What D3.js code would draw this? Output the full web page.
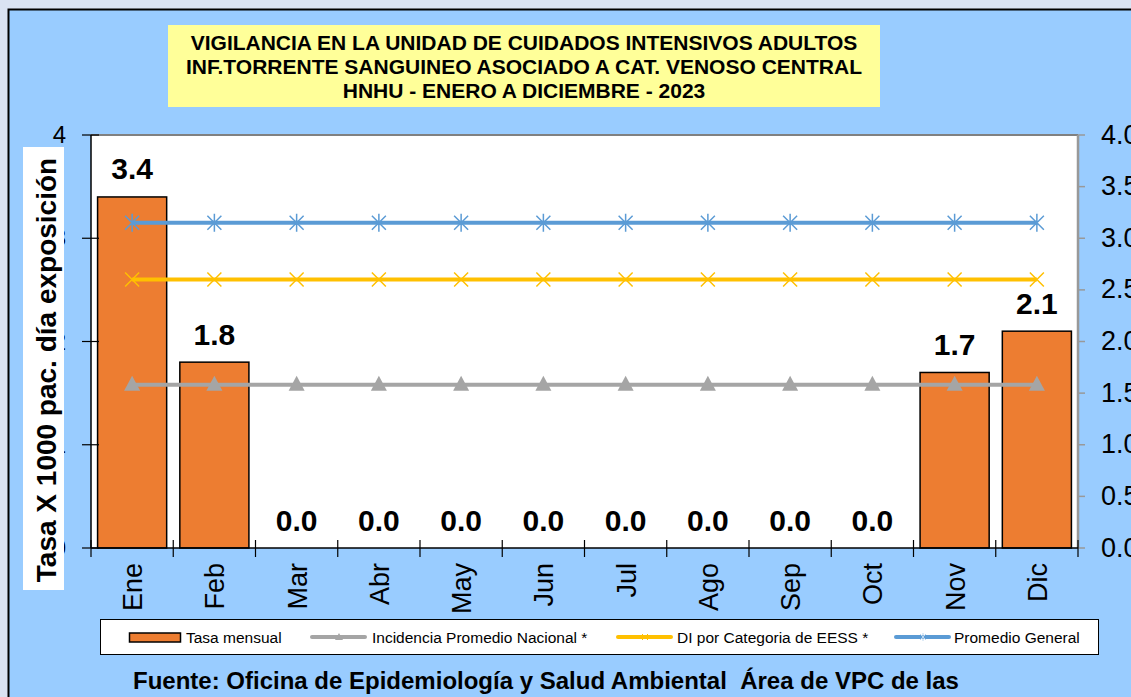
<!DOCTYPE html>
<html>
<head>
<meta charset="utf-8">
<script src="https://cdn.jsdelivr.net/npm/d3@7"></script>
<style>
  html, body { margin: 0; padding: 0; background: #dae3f3; }
  svg { display: block; font-family: "Liberation Sans", Arial, sans-serif; }
</style>
</head>
<body>
<svg id="chart" width="1131" height="697"></svg>
<script>
// Monthly CLABSI rate, ICU adults, 2023
const months = ["Ene","Feb","Mar","Abr","May","Jun","Jul","Ago","Sep","Oct","Nov","Dic"];
const tasaMensual = [3.4, 1.8, 0, 0, 0, 0, 0, 0, 0, 0, 1.7, 2.1];
const incidenciaNacional = [1.58, 1.58, 1.58, 1.58, 1.58, 1.58, 1.58, 1.58, 1.58, 1.58, 1.58, 1.58];
const diCategoria = [2.6, 2.6, 2.6, 2.6, 2.6, 2.6, 2.6, 2.6, 2.6, 2.6, 2.6, 2.6];
const promedioGeneral = [3.15, 3.15, 3.15, 3.15, 3.15, 3.15, 3.15, 3.15, 3.15, 3.15, 3.15, 3.15];
const leftTicks = [0, 1, 2, 3, 4];
const rightTicks = [0, 0.5, 1, 1.5, 2, 2.5, 3, 3.5, 4];
const titleLines = [
  "VIGILANCIA EN LA UNIDAD DE CUIDADOS INTENSIVOS ADULTOS",
  "INF.TORRENTE SANGUINEO ASOCIADO A CAT. VENOSO CENTRAL",
  "HNHU - ENERO A DICIEMBRE - 2023"
];
const yTitle = "Tasa X 1000 pac. día exposición";
const fuente = "Fuente: Oficina de Epidemiología y Salud Ambiental  Área de VPC de las";

const C = { bar: "#ED7D31", gray: "#A5A5A5", yellow: "#FFC000", blue: "#5B9BD5", bg: "#99CCFF" };

const svg = d3.select("#chart");

// Chart panel background with black frame
svg.append("rect").attr("x", 8.5).attr("y", 9.5).attr("width", 1140).attr("height", 700)
  .attr("fill", C.bg).attr("stroke", "#000").attr("stroke-width", 2);

const L = 91, R = 1078, T = 135, B = 548;

const x = d3.scaleBand().domain(months).range([L, R]).paddingInner(0.16).paddingOuter(0.08);
const xStep = d3.scaleBand().domain(months).range([L, R]);
const y = d3.scaleLinear().domain([0, 4]).range([B, T]);
const cx = d => x(d) + x.bandwidth() / 2;

// plot area
svg.append("rect").attr("x", L).attr("y", T).attr("width", R - L).attr("height", B - T).attr("fill", "#fff");
svg.append("line").attr("x1", L).attr("x2", R).attr("y1", T).attr("y2", T).attr("stroke", "#808080").attr("stroke-width", 2);

// title box
const tg = svg.append("g");
tg.append("rect").attr("x", 168).attr("y", 25).attr("width", 712).attr("height", 82).attr("fill", "#FFFF99");
tg.selectAll("text").data(titleLines).join("text")
  .attr("x", 524).attr("y", (d, i) => 49.5 + i * 24)
  .attr("text-anchor", "middle").attr("font-weight", "bold").attr("font-size", 21)
  .text(d => d);

// bars
svg.append("g").selectAll("rect").data(months).join("rect")
  .attr("x", d => x(d)).attr("width", x.bandwidth())
  .attr("y", (d, i) => y(tasaMensual[i]))
  .attr("height", (d, i) => y(0) - y(tasaMensual[i]))
  .attr("fill", C.bar).attr("stroke", "#000").attr("stroke-width", 1.5);

// value labels
svg.append("g").selectAll("text").data(months).join("text")
  .attr("x", d => cx(d))
  .attr("y", (d, i) => y(tasaMensual[i]) - 17.5)
  .attr("text-anchor", "middle").attr("font-weight", "bold").attr("font-size", 30)
  .text((d, i) => d3.format(".1f")(tasaMensual[i]));

function drawLine(values, color, marker) {
  const g = svg.append("g");
  g.append("path").datum(values)
    .attr("d", d3.line().x((v, i) => cx(months[i])).y(v => y(v)))
    .attr("fill", "none").attr("stroke", color).attr("stroke-width", 4);
  const m = g.selectAll("g").data(values).join("g")
    .attr("transform", (v, i) => `translate(${cx(months[i])},${y(v)})`);
  if (marker === "triangle") {
    m.append("path").attr("d", "M0,-9L8,6L-8,6Z").attr("fill", color);
  } else if (marker === "x") {
    m.append("path").attr("d", "M-7,-7L7,7M-7,7L7,-7").attr("stroke", color).attr("stroke-width", 1.5);
  } else {
    m.append("path").attr("d", "M-7,-7L7,7M-7,7L7,-7M0,-9V9").attr("stroke", color).attr("stroke-width", 1.5);
  }
}
drawLine(incidenciaNacional, C.gray, "triangle");
drawLine(diCategoria, C.yellow, "x");
drawLine(promedioGeneral, C.blue, "star");

// left axis
const la = svg.append("g");
la.append("line").attr("x1", L).attr("x2", L).attr("y1", T).attr("y2", B).attr("stroke", "#000").attr("stroke-width", 1.5);
la.selectAll("line.t").data(leftTicks).join("line").attr("class", "t")
  .attr("x1", L - 9).attr("x2", L + 8).attr("y1", d => y(d)).attr("y2", d => y(d))
  .attr("stroke", "#000").attr("stroke-width", 1.2);
la.selectAll("text").data(leftTicks).join("text")
  .attr("x", 66).attr("y", d => y(d) + 8).attr("text-anchor", "end").attr("font-size", 24)
  .text(d => d);

// right axis
const ra = svg.append("g");
ra.append("line").attr("x1", R).attr("x2", R).attr("y1", T).attr("y2", B).attr("stroke", "#999").attr("stroke-width", 2.5);
ra.selectAll("line.t").data(rightTicks).join("line").attr("class", "t")
  .attr("x1", R).attr("x2", R + 7).attr("y1", d => y(d)).attr("y2", d => y(d))
  .attr("stroke", "#999").attr("stroke-width", 1.5);
ra.selectAll("text").data(rightTicks).join("text")
  .attr("x", 1101).attr("y", d => y(d) + 8.5).attr("font-size", 27)
  .text(d => d3.format(".1f")(d));

// bottom axis
const ba = svg.append("g");
ba.append("line").attr("x1", L).attr("x2", R).attr("y1", B).attr("y2", B).attr("stroke", "#000").attr("stroke-width", 1.5);
ba.selectAll("line.t").data(months.concat(["end"])).join("line").attr("class", "t")
  .attr("x1", (d, i) => L + i * xStep.step()).attr("x2", (d, i) => L + i * xStep.step())
  .attr("y1", B - 8).attr("y2", B + 9).attr("stroke", "#000").attr("stroke-width", 1.2);
ba.selectAll("text").data(months).join("text")
  .attr("transform", d => `translate(${cx(d) + 10},${B + 15}) rotate(-90)`)
  .attr("text-anchor", "end").attr("font-size", 27)
  .text(d => d);

// y-axis title on white box
svg.append("rect").attr("x", 23).attr("y", 147).attr("width", 41).attr("height", 443).attr("fill", "#fff");
svg.append("text")
  .attr("transform", "translate(56,370) rotate(-90)")
  .attr("text-anchor", "middle").attr("font-weight", "bold").attr("font-size", 28)
  .text(yTitle);

// legend
const lg = svg.append("g");
lg.append("rect").attr("x", 100.5).attr("y", 619.5).attr("width", 998).attr("height", 35)
  .attr("fill", "#fff").attr("stroke", "#000").attr("stroke-width", 1);
const ly = 637;
lg.append("rect").attr("x", 129.5).attr("y", ly - 4).attr("width", 51).attr("height", 9)
  .attr("fill", C.bar).attr("stroke", "#000").attr("stroke-width", 1.5);
const legendItems = [
  { label: "Tasa mensual", tx: 186 },
  { label: "Incidencia Promedio Nacional *", tx: 372, color: C.gray, x0: 312, marker: "triangle" },
  { label: "DI por Categoria de EESS *", tx: 677, color: C.yellow, x0: 618, marker: "x" },
  { label: "Promedio General", tx: 954, color: C.blue, x0: 896, marker: "star" }
];
legendItems.forEach(it => {
  if (it.color) {
    lg.append("line").attr("x1", it.x0).attr("x2", it.x0 + 53).attr("y1", ly).attr("y2", ly)
      .attr("stroke", it.color).attr("stroke-width", 4).attr("stroke-linecap", "round");
    const mx = it.x0 + 27;
    if (it.marker === "triangle") lg.append("path").attr("d", `M${mx},${ly - 4}L${mx + 4},${ly + 3}L${mx - 4},${ly + 3}Z`).attr("fill", it.color);
    else if (it.marker === "x") lg.append("path").attr("d", `M${mx - 3},${ly - 3}L${mx + 3},${ly + 3}M${mx - 3},${ly + 3}L${mx + 3},${ly - 3}`).attr("stroke", it.color).attr("stroke-width", 1);
    else lg.append("path").attr("d", `M${mx - 3},${ly - 3}L${mx + 3},${ly + 3}M${mx - 3},${ly + 3}L${mx + 3},${ly - 3}M${mx},${ly - 4}V${ly + 4}`).attr("stroke", "#bcd6ee").attr("stroke-width", 1);
  }
  lg.append("text").attr("x", it.tx).attr("y", ly + 6).attr("font-size", 15.5).text(it.label);
});

// source note
svg.append("text").attr("x", 133).attr("y", 689).attr("font-weight", "bold").attr("font-size", 24)
  .style("white-space", "pre").text(fuente);
</script>
</body>
</html>
